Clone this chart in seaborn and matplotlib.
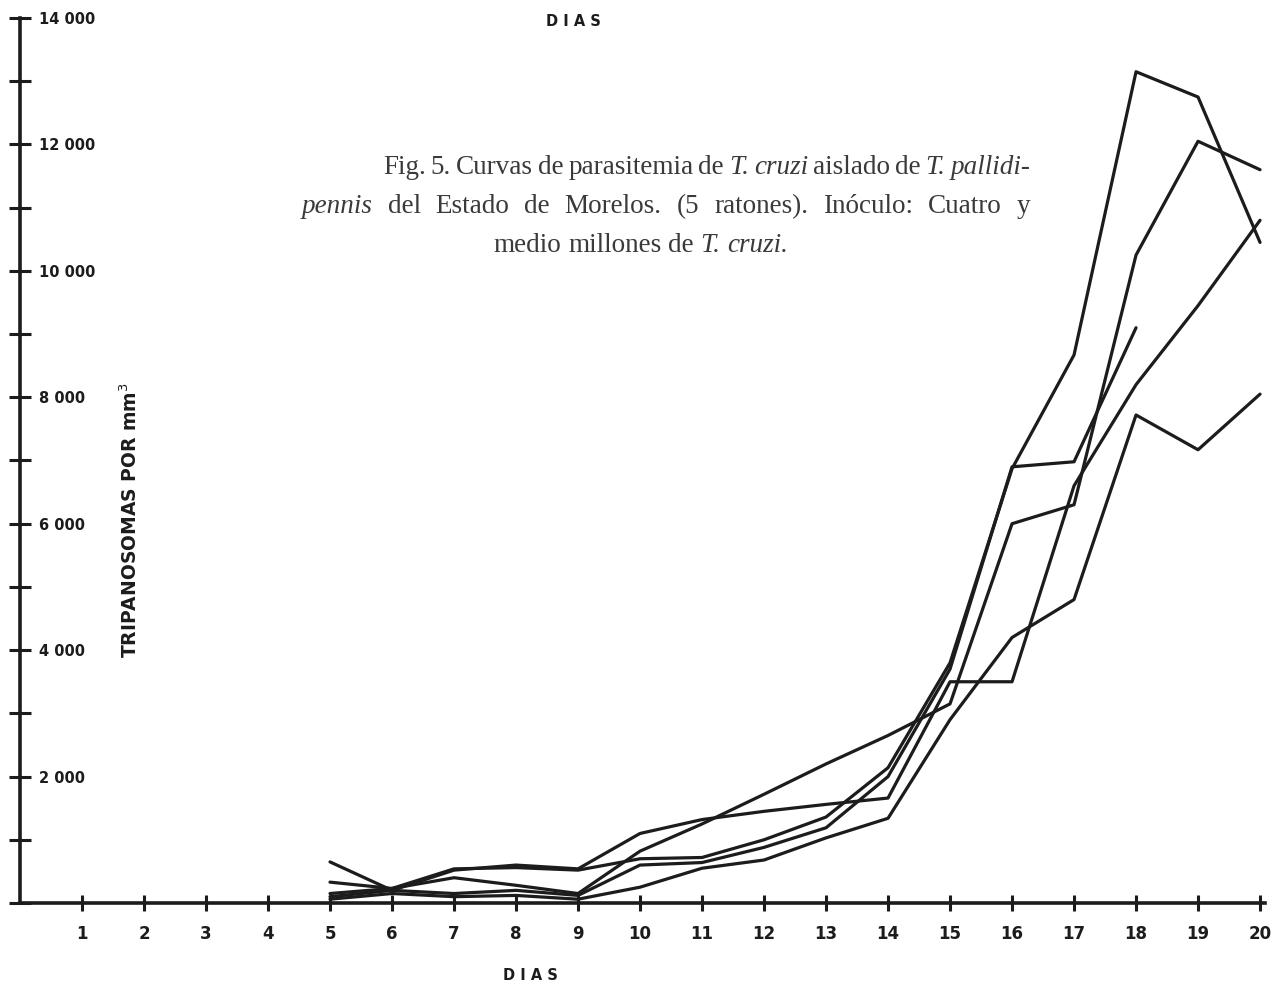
import numpy as np
import pandas as pd
import matplotlib
matplotlib.use("Agg")
import matplotlib.pyplot as plt
import seaborn as sns
from matplotlib.ticker import FixedLocator, FuncFormatter

# ---------------- data ----------------
dias = list(range(5, 21))
raton_1 = [330, 230, 400, 280, 150, 820, 1250, 1720, 2200, 2650, 3150, 6000, 6300, 10250, 12050, 11600]
raton_2 = [650, 200, 520, 600, 540, 1100, 1320, 1450, 1560, 1660, 3500, 3500, 6600, 8200, 9450, 10800]
raton_3 = [150, 230, 540, 560, 520, 700, 720, 1000, 1360, 2140, 3800, 6870, 8670, 13150, 12750, 10450]
raton_4 = [100, 200, 150, 200, 120, 600, 640, 880, 1190, 2000, 3700, 6900, 6980, 9100]
raton_5 = [60, 150, 100, 120, 60, 250, 550, 680, 1030, 1340, 2900, 4200, 4800, 7720, 7170, 8050]
dias_ticks = list(range(1, 21))
y_major = list(range(0, 14001, 2000))
y_minor = list(range(1000, 14000, 2000))

series = {"1": raton_1, "2": raton_2, "3": raton_3, "4": raton_4, "5": raton_5}
rows = []
for name, vals in series.items():
    for d, v in zip(dias, vals):
        rows.append({"dia": d, "valor": v, "raton": name})
df = pd.DataFrame(rows)

# ---------------- style ----------------
sns.set_theme(style="white")
plt.rcParams["font.family"] = ["DejaVu Sans"]

W, H = 1273, 990
fig = plt.figure(figsize=(W / 100, H / 100), dpi=100)
ax = fig.add_axes([20 / W, 1 - 903 / H, 1245 / W, 885 / H])

ink = "#1c1c1c"
sns.lineplot(data=df, x="dia", y="valor", hue="raton",
             palette=[ink] * 5, linewidth=2.3, legend=False, ax=ax,
             estimator=None, sort=False)

ax.set_xlim(0, 20.08)
ax.set_ylim(0, 14000)
ax.set_xlabel("")
ax.set_ylabel("")

for s in ["top", "right"]:
    ax.spines[s].set_visible(False)
for s in ["left", "bottom"]:
    ax.spines[s].set_color(ink)
    ax.spines[s].set_linewidth(2.6)

ax.xaxis.set_major_locator(FixedLocator(dias_ticks))
ax.yaxis.set_major_locator(FixedLocator(y_major))
ax.yaxis.set_minor_locator(FixedLocator(y_minor))
ax.yaxis.set_major_formatter(FuncFormatter(
    lambda v, p: "" if v == 0 else f"{int(v):,}".replace(",", " ")))

ax.tick_params(axis="x", which="major", bottom=True, direction="inout", length=11,
               width=2.2, color=ink, pad=10, labelsize=12, labelcolor=ink)
ax.tick_params(axis="y", which="both", left=True, direction="inout", length=16,
               width=2.2, color=ink, pad=-22, labelsize=10.5, labelcolor=ink)
for lab in ax.get_yticklabels():
    lab.set_horizontalalignment("left")
    lab.set_fontweight("bold")
for lab in ax.get_xticklabels():
    lab.set_fontweight("bold")

# axis titles
fig.text(573 / W, 1 - 22 / H, "D I A S", ha="center", va="center",
         fontsize=10.5, fontweight="bold", color=ink)
fig.text(530 / W, 1 - 975 / H, "D I A S", ha="center", va="center",
         fontsize=10.5, fontweight="bold", color=ink)
fig.text(130 / W, 1 - 520 / H, r"TRIPANOSOMAS POR mm$^{3}$", rotation=90,
         ha="center", va="center", fontsize=13.5, fontweight="bold", color=ink)

# caption with italic pieces (lines 1-2 justified, line 3 centred)
cap_color = "#3a3a3a"
cap_size = 19.5
cap_family = ["Liberation Serif", "DejaVu Serif"]
renderer = fig.canvas.get_renderer()


def measure(txt, style):
    t = fig.text(0, 0, txt, fontstyle=style, family=cap_family, fontsize=cap_size)
    w = t.get_window_extent(renderer).width
    t.remove()
    return w


def caption_line(x0, x1, y_px, words, justify=True):
    widths = [measure(w, s) for w, s in words]
    space = measure("a a", "normal") - measure("aa", "normal")
    ngaps = len(words) - 1
    total = sum(widths) + space * ngaps
    if justify and ngaps > 0:
        gap = space + (x1 - x0 - total) / ngaps
        x = x0
    else:
        gap = space
        x = (x0 + x1) / 2 - total / 2
    for (txt, style), w in zip(words, widths):
        fig.text(x / W, 1 - y_px / H, txt, fontstyle=style, family=cap_family,
                 fontsize=cap_size, color=cap_color, va="baseline", ha="left")
        x += w + gap


def words_of(parts):
    out = []
    for txt, style in parts:
        for w in txt.split(" "):
            if w:
                out.append((w, style))
    return out


caption_line(383, 1030, 174, words_of([("Fig. 5. Curvas de parasitemia de", "normal"),
                                       ("T. cruzi", "italic"),
                                       ("aislado de", "normal"),
                                       ("T. pallidi-", "italic")]))
caption_line(302, 1030, 213, words_of([("pennis", "italic"),
                                       ("del Estado de Morelos. (5 ratones). Inóculo: Cuatro y", "normal")]))
caption_line(492, 790, 252, words_of([("medio millones de", "normal"),
                                      ("T. cruzi.", "italic")]), justify=False)

fig.savefig("out.png", dpi=100, facecolor="white")
